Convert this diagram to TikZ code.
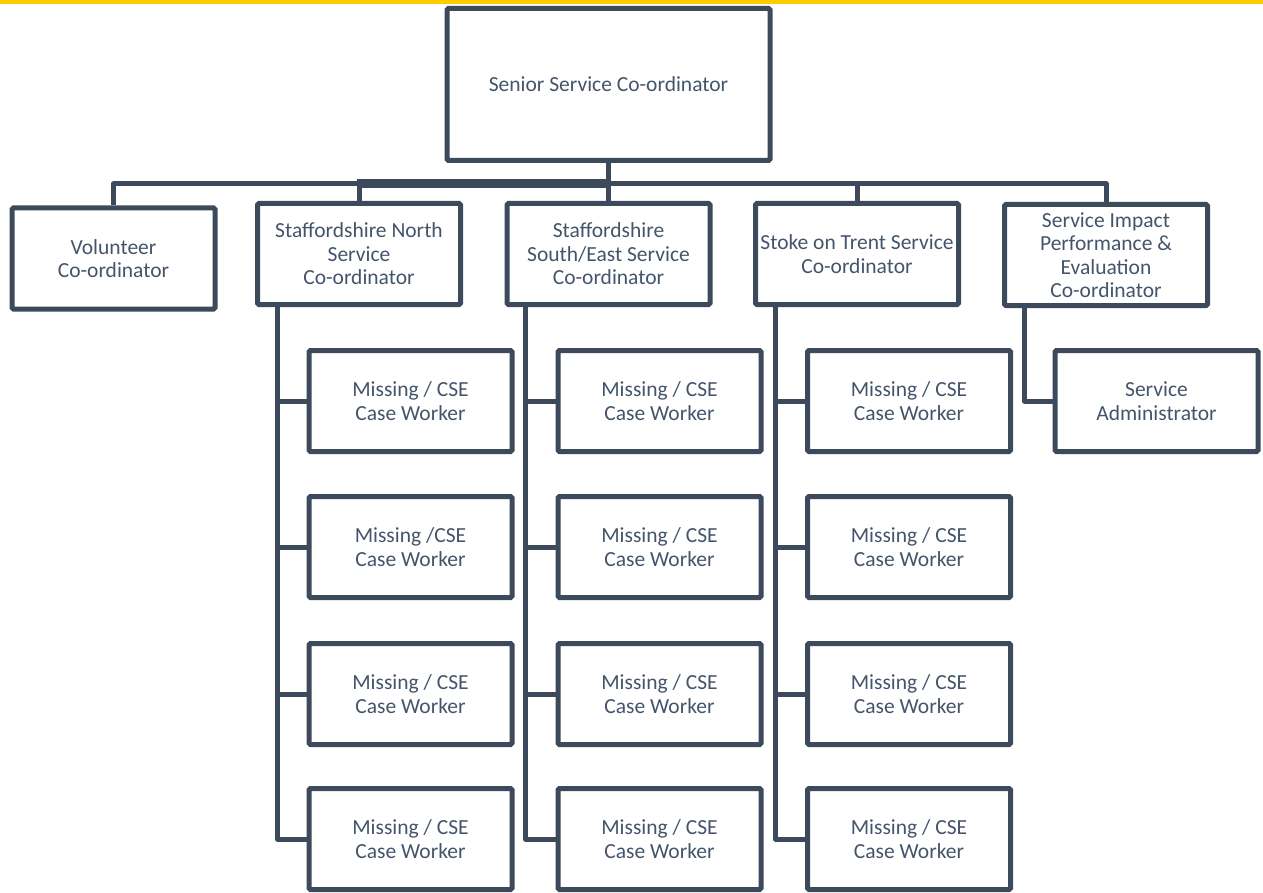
\documentclass[tikz,border=0pt]{standalone}
\usepackage{fontspec}
\setmainfont{Carlito}
\definecolor{linec}{HTML}{3D4A5C}
\definecolor{textc}{HTML}{44546A}
\definecolor{barc}{HTML}{FFCC00}
\begin{document}
\begin{tikzpicture}[x=1pt,y=-1pt,
  box/.style={draw=linec, line width=5pt, rounded corners=1.5pt, minimum width=203pt,
    minimum height=101pt, inner sep=0pt, align=center, text=textc,
    font=\fontsize{21.5}{23.5}\selectfont},
  conn/.style={draw=linec, line width=5pt, line join=round}]
\useasboundingbox (0,0) rectangle (1263,893);
\fill[barc] (0,0) rectangle (1263,4);
% top
\node[box, minimum width=323pt, minimum height=152pt] (top) at (608.5,84.5) {Senior Service Co-ordinator};
% level 1
\node[box] (vol) at (113.5,258.5) {Volunteer\\Co-ordinator};
\node[box] (sn)  at (359,254) {Staffordshire North\\Service\\Co-ordinator};
\node[box] (sse) at (608.5,254) {Staffordshire\\South/East Service\\Co-ordinator};
\node[box] (st)  at (857,254) {Stoke on Trent Service\\Co-ordinator};
\node[box] (sip) at (1106,255) {Service Impact\\Performance \&\\Evaluation\\Co-ordinator};
% level 2
\node[box] (m11) at (410.5,401) {Missing / CSE\\Case Worker};
\node[box] (m12) at (410.5,547) {Missing /CSE\\Case Worker};
\node[box] (m13) at (410.5,694) {Missing / CSE\\Case Worker};
\node[box] (m14) at (410.5,839) {Missing / CSE\\Case Worker};
\node[box] (m21) at (659.5,401) {Missing / CSE\\Case Worker};
\node[box] (m22) at (659.5,547) {Missing / CSE\\Case Worker};
\node[box] (m23) at (659.5,694) {Missing / CSE\\Case Worker};
\node[box] (m24) at (659.5,839) {Missing / CSE\\Case Worker};
\node[box] (m31) at (909,401) {Missing / CSE\\Case Worker};
\node[box] (m32) at (909,547) {Missing / CSE\\Case Worker};
\node[box] (m33) at (909,694) {Missing / CSE\\Case Worker};
\node[box] (m34) at (909,839) {Missing / CSE\\Case Worker};
\node[box] (adm) at (1156.5,401) {Service\\Administrator};
% bus
\coordinate (bus) at (0,184);
\draw[conn] (top.south) -- (sse.north);
\draw[conn] (vol.north) -- (vol.north |- bus) -- (sip.north |- bus) -- (sip.north);
\draw[conn] (sn.north) -- (sn.north |- bus);
\draw[conn] (st.north) -- (st.north |- bus);
\draw[conn, line width=9pt, line cap=butt] ([xshift=-2.5pt]sn.north |- bus) -- (top.south |- bus);
% verticals
\coordinate (v1) at (277.5,0);
\coordinate (v2) at (525.5,0);
\coordinate (v3) at (775.5,0);
\coordinate (v4) at (1024.5,0);
\draw[conn] (sn.south -| v1) |- (m14.west);
\draw[conn] (sse.south -| v2) |- (m24.west);
\draw[conn] (st.south -| v3) |- (m34.west);
\draw[conn] (sip.south -| v4) |- (adm.west);
\foreach \c in {1,2,3}{
  \foreach \r in {1,2,3}{
    \draw[conn] (m\c\r.west -| v\c) -- (m\c\r.west);
  }
}
\end{tikzpicture}
\end{document}
